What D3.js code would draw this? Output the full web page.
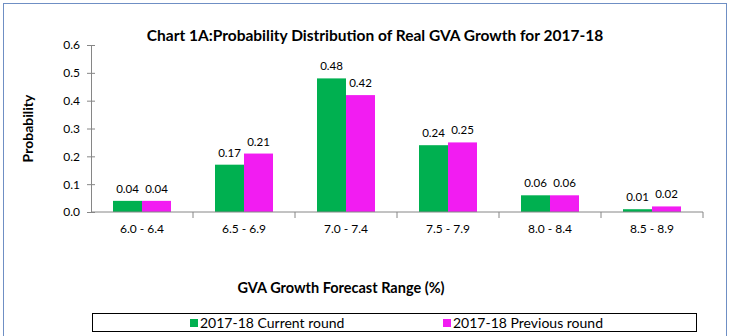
<!DOCTYPE html>
<meta charset="utf-8">
<style>
body { margin: 0; background: #fff; }
text { font-family: Lato, "Open Sans", sans-serif; }
</style>
<body>
<svg id="chart" width="729" height="336"></svg>
<script src="https://d3js.org/d3.v7.min.js"></script>
<script>
// chart values
var ranges = ["6.0 - 6.4", "6.5 - 6.9", "7.0 - 7.4", "7.5 - 7.9", "8.0 - 8.4", "8.5 - 8.9"];
var seriesNames = ["2017-18 Current round", "2017-18 Previous round"];
var currentRound = [0.04, 0.17, 0.48, 0.24, 0.06, 0.01];
var previousRound = [0.04, 0.21, 0.42, 0.25, 0.06, 0.02];
var yTicks = [0, 0.1, 0.2, 0.3, 0.4, 0.5, 0.6];

var colors = ["#00b050", "#f21cf2"];
var axisColor = "#868686";

var svg = d3.select("#chart");

// outer frame
svg.append("rect")
  .attr("x", 3.5).attr("y", 3.5)
  .attr("width", 723).attr("height", 340)
  .attr("fill", "none").attr("stroke", "#6f8fc4").attr("stroke-width", 1);

var plot = {left: 91, right: 703, top: 45, bottom: 212};

var x0 = d3.scaleBand().domain(ranges).range([plot.left, plot.right]).paddingInner(0).paddingOuter(0);
var x1 = d3.scaleBand().domain([0, 1]).range([0, 58]);
var y = d3.scaleLinear().domain([0, 0.6]).range([plot.bottom, plot.top]);

// title
svg.append("text")
  .attr("x", 375).attr("y", 41)
  .attr("text-anchor", "middle")
  .attr("font-size", 15.5).attr("font-weight", "bold")
  .text("Chart 1A:Probability Distribution of Real GVA Growth for 2017-18");

// y axis
var yAxis = svg.append("g")
  .attr("transform", "translate(" + plot.left + ",0)")
  .call(d3.axisLeft(y).tickValues(yTicks).tickFormat(d3.format(".1f")).tickSizeInner(4).tickSizeOuter(0));
yAxis.selectAll(".tick line").attr("x2", 4).attr("x1", -4);
yAxis.selectAll(".tick text").attr("x", -11).attr("font-size", 12).attr("fill", "#000");
yAxis.select(".domain").attr("stroke", axisColor);
yAxis.selectAll(".tick line").attr("stroke", axisColor);

svg.append("text")
  .attr("transform", "translate(33," + (plot.top + plot.bottom) / 2 + ") rotate(-90)")
  .attr("text-anchor", "middle")
  .attr("font-size", 14).attr("font-weight", "bold")
  .text("Probability");

// bars
var data = ranges.map(function(r, i) { return {range: r, values: [currentRound[i], previousRound[i]]}; });

var groups = svg.append("g").selectAll("g")
  .data(data).enter().append("g")
  .attr("transform", function(d) { return "translate(" + (x0(d.range) + (x0.bandwidth() - 58) / 2) + ",0)"; });

groups.selectAll("rect")
  .data(function(d) { return d.values; })
  .enter().append("rect")
  .attr("x", function(d, i) { return x1(i); })
  .attr("y", function(d) { return y(d); })
  .attr("width", x1.bandwidth())
  .attr("height", function(d) { return y(0) - y(d); })
  .attr("fill", function(d, i) { return colors[i]; });

groups.selectAll("text")
  .data(function(d) { return d.values; })
  .enter().append("text")
  .attr("x", function(d, i) { return x1(i) + x1.bandwidth() / 2; })
  .attr("y", function(d) { return y(d) - 8; })
  .attr("text-anchor", "middle")
  .attr("font-size", 11.5)
  .text(function(d) { return d3.format(".2f")(d); });

// x axis
var xAxis = svg.append("g")
  .attr("transform", "translate(0," + plot.bottom + ")");
xAxis.append("line")
  .attr("x1", plot.left).attr("x2", plot.right)
  .attr("stroke", axisColor);
var bounds = ranges.map(function(r) { return x0(r) + x0.bandwidth(); });
xAxis.selectAll(".tk").data(bounds).enter().append("line")
  .attr("x1", function(d) { return d; }).attr("x2", function(d) { return d; })
  .attr("y1", 0).attr("y2", 6)
  .attr("stroke", axisColor);
xAxis.selectAll(".lbl").data(ranges).enter().append("text")
  .attr("x", function(d) { return x0(d) + x0.bandwidth() / 2; })
  .attr("y", 21)
  .attr("text-anchor", "middle")
  .attr("font-size", 12)
  .text(function(d) { return d; });

svg.append("text")
  .attr("x", 341).attr("y", 293)
  .attr("text-anchor", "middle")
  .attr("font-size", 14.5).attr("font-weight", "bold")
  .text("GVA Growth Forecast Range (%)");

// legend
svg.append("rect")
  .attr("x", 92.5).attr("y", 313.5)
  .attr("width", 604).attr("height", 18)
  .attr("fill", "none").attr("stroke", "#000");

var legendX = [190, 443];
var legend = svg.selectAll(".legend").data(seriesNames).enter().append("g")
  .attr("transform", function(d, i) { return "translate(" + legendX[i] + ",318)"; });
legend.append("rect")
  .attr("width", 8).attr("height", 8)
  .attr("y", 1)
  .attr("fill", function(d, i) { return colors[i]; });
legend.append("text")
  .attr("x", 10).attr("y", 10)
  .attr("font-size", 14)
  .text(function(d) { return d; });
</script>
</body>
